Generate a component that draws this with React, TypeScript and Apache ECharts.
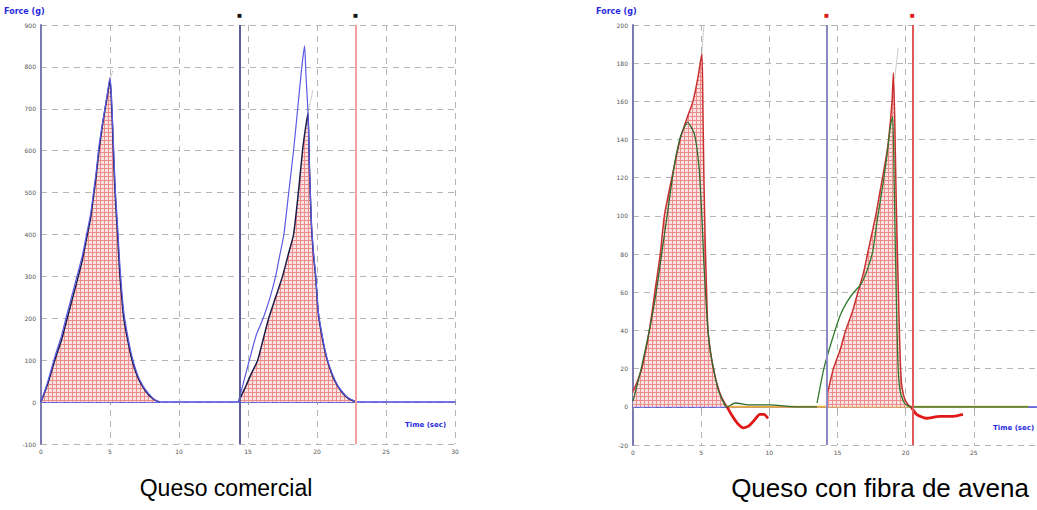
import React, { useEffect, useRef } from "react";
import * as echarts from "echarts";

// ---------- Left panel: Queso comercial ----------
const leftXTicks = [0, 5, 10, 15, 20, 25, 30];
const leftYMin = -100;
const leftYMax = 900;

const lDark1T = [0, 0.5, 1.0, 1.5, 1.9, 2.3, 2.7, 3.0, 3.3, 3.6, 3.8, 4.0, 4.2, 4.45, 4.65, 4.85, 5.0, 5.1, 5.2, 5.3, 5.4, 5.55, 5.7, 5.85, 6.0, 6.3, 6.6, 7.0, 7.4, 7.8, 8.2, 8.6];
const lDark1V = [0, 45, 100, 150, 200, 250, 300, 340, 390, 440, 490, 540, 600, 660, 700, 740, 770, 720, 640, 550, 480, 400, 310, 250, 200, 145, 100, 60, 35, 17, 6, 0];
const lBlue1V = [0, 50, 108, 160, 212, 262, 312, 350, 400, 450, 500, 550, 610, 665, 705, 745, 775, 735, 660, 575, 500, 420, 335, 268, 215, 155, 108, 65, 38, 20, 7, 0];

const lDark2T = [14.3, 14.8, 15.2, 15.7, 16.1, 16.5, 17.0, 17.5, 17.9, 18.3, 18.65, 18.95, 19.15, 19.35, 19.45, 19.6, 19.75, 19.9, 20.1, 20.4, 20.7, 21.1, 21.5, 21.9, 22.3, 22.9];
const lDark2V = [0, 35, 65, 100, 150, 200, 250, 300, 350, 400, 500, 600, 650, 690, 560, 420, 350, 300, 210, 150, 105, 65, 38, 20, 8, 0];
const lBlue2T = [14.3, 14.7, 15.1, 15.6, 16.1, 16.6, 17.0, 17.3, 17.6, 17.95, 18.3, 18.6, 18.9, 19.1, 19.2, 19.35, 19.45, 19.6, 19.75, 19.9, 20.1, 20.4, 20.7, 21.1, 21.5, 21.9, 22.3, 22.9];
const lBlue2V = [0, 50, 100, 160, 200, 250, 300, 350, 400, 500, 600, 700, 800, 850, 780, 690, 565, 425, 355, 305, 215, 155, 108, 68, 40, 22, 9, 0];

const lTip1T = [5.0, 5.2];
const lTip1V = [770, 790];
const lTip2T = [19.35, 19.7];
const lTip2V = [690, 745];

const leftMarkers = [14.4, 22.8];

// ---------- Right panel: Queso con fibra de avena ----------
const rightXTicks = [0, 5, 10, 15, 20, 25, 30];
const rightYMin = -20;
const rightYMax = 200;

const rRed1T = [0, 0.3, 0.65, 1.2, 1.6, 2.0, 2.3, 2.85, 3.45, 4.0, 4.4, 4.75, 5.05, 5.12, 5.2, 5.3, 5.4, 5.5, 5.7, 5.9, 6.2, 6.5, 6.9];
const rRed1V = [8, 13, 20, 40, 60, 80, 100, 120, 140, 152, 160, 172, 185, 160, 120, 85, 60, 40, 28, 20, 11, 5, 0];
const rRedTail1T = [6.9, 7.3, 7.7, 8.1, 8.5, 8.9, 9.3, 9.6, 9.9];
const rRedTail1V = [0, -5, -9, -11, -10, -7, -4, -4, -6];

const rGreen1T = [0, 0.6, 1.2, 1.7, 2.1, 2.5, 3.0, 3.5, 4.0, 4.5, 4.85, 5.05, 5.2, 5.4, 5.6, 5.9, 6.3, 6.9, 7.5, 8.5, 10, 12, 13.5];
const rGreen1V = [3, 20, 40, 60, 80, 100, 125, 142, 149, 143, 125, 100, 75, 50, 33, 20, 8, 0, 2, 1, 1, 0, 0];

const rRed2T = [14.3, 14.7, 15.2, 15.6, 16.1, 16.5, 16.9, 17.2, 17.5, 17.8, 18.1, 18.3, 18.55, 18.75, 19.0, 19.1, 19.2, 19.3, 19.4, 19.5, 19.6, 19.7, 19.85, 20.0, 20.2, 20.4];
const rRed2V = [8, 20, 30, 40, 50, 60, 70, 80, 90, 100, 112, 120, 130, 140, 160, 175, 150, 110, 80, 50, 25, 12, 6, 3, 1, 0];
const rRedTail2T = [20.4, 20.8, 21.5, 22.5, 23.5, 24.2];
const rRedTail2V = [0, -4, -6, -5, -5, -4];

const rGreen2T = [13.5, 14.0, 14.6, 15.2, 15.7, 16.2, 16.7, 17.2, 17.6, 17.9, 18.3, 18.6, 18.9, 19.05, 19.15, 19.25, 19.35, 19.45, 19.6, 19.9, 20.3, 22, 25, 29];
const rGreen2V = [2, 20, 35, 48, 55, 60, 64, 72, 82, 97, 115, 130, 148, 152, 120, 80, 45, 20, 8, 2, 0, 0, 0, 0];

const rOrangeT = [6.9, 29];
const rOrangeV = [0, 0];

const rTip1T = [5.05, 5.2];
const rTip1V = [185, 200];
const rTip2T = [19.2, 19.45];
const rTip2V = [172, 188];

const rightMarkers = [14.2, 20.5];

const zip = (t: number[], v: number[]) => t.map((x, i) => [x, v[i]]);

function makeFill(): any {
  const c = document.createElement("canvas");
  c.width = 4;
  c.height = 4;
  const ctx = c.getContext("2d")!;
  ctx.fillStyle = "#fbe3e3";
  ctx.fillRect(0, 0, 4, 4);
  ctx.fillStyle = "#ee8c8c";
  ctx.fillRect(0, 0, 4, 1);
  ctx.fillRect(0, 0, 1, 4);
  return { image: c, repeat: "repeat", imageWidth: 4, imageHeight: 4 };
}

function lineSeries(grid: number, t: number[], v: number[], color: string, width: number, extra: any = {}) {
  return {
    type: "line",
    xAxisIndex: grid,
    yAxisIndex: grid,
    data: zip(t, v),
    showSymbol: false,
    symbol: "none",
    smooth: 0.2,
    lineStyle: { color, width },
    z: 3,
    ...extra,
  };
}

function markerSeries(grid: number, xs: number[], colors: string[], labelColor: string) {
  return {
    type: "line",
    xAxisIndex: grid,
    yAxisIndex: grid,
    data: [],
    markLine: {
      silent: true,
      symbol: ["none", "none"],
      data: xs.map((x, i) => ({
        xAxis: x,
        lineStyle: { color: colors[i], width: 2, type: "solid" },
      })),
      label: {
        show: true,
        position: "end",
        formatter: "\u25A0",
        color: labelColor,
        fontSize: 8,
        distance: 6,
      },
    },
  };
}

function xAxisCfg(grid: number, ticks: number[], axisColor: string, showMax: boolean) {
  return {
    type: "value",
    gridIndex: grid,
    min: ticks[0],
    max: ticks[ticks.length - 1],
    interval: ticks[1] - ticks[0],
    axisLine: { onZero: true, lineStyle: { color: axisColor, width: 1.5 } },
    axisTick: { show: true, length: 3, lineStyle: { color: "#999" } },
    axisLabel: { fontSize: 6, color: "#555", margin: 4, fontFamily: "DejaVu Sans", showMaxLabel: showMax },
    splitLine: { show: true, lineStyle: { color: "#b5b5b5", type: [6, 5], width: 1 } },
  };
}

function yAxisCfg(grid: number, min: number, max: number, interval: number) {
  return {
    type: "value",
    gridIndex: grid,
    min,
    max,
    interval,
    axisLine: { show: true, onZero: false, lineStyle: { color: "#7a7ab0", width: 2 } },
    axisTick: { show: false },
    axisLabel: { fontSize: 6, color: "#555", margin: 5, fontFamily: "DejaVu Sans" },
    splitLine: { show: true, lineStyle: { color: "#b5b5b5", type: [6, 5], width: 1 } },
  };
}

export default function App() {
  const ref = useRef<HTMLDivElement>(null);
  useEffect(() => {
    document.body.style.margin = "0";
    const chart = echarts.init(ref.current!, null, { renderer: "svg" });
    const FILL = makeFill();
    const option: any = {
      animation: false,
      backgroundColor: "#ffffff",
      grid: [
        { left: 41, top: 25, width: 414, height: 419, outerBoundsMode: "none", containLabel: false },
        { left: 633, top: 25, width: 409, height: 420, outerBoundsMode: "none", containLabel: false },
      ],
      xAxis: [xAxisCfg(0, leftXTicks, "#4a4ae0", true), xAxisCfg(1, rightXTicks, "#4a4ae0", false)],
      yAxis: [yAxisCfg(0, leftYMin, leftYMax, 100), yAxisCfg(1, rightYMin, rightYMax, 20)],
      series: [
        // left
        lineSeries(0, lDark1T, lDark1V, "#1c1c48", 1.5, { areaStyle: { color: FILL, opacity: 1, origin: 0 } }),
        lineSeries(0, lDark1T, lBlue1V, "#5a5ae6", 1.2),
        lineSeries(0, lDark2T, lDark2V, "#1c1c48", 1.5, { areaStyle: { color: FILL, opacity: 1, origin: 0 } }),
        lineSeries(0, lBlue2T, lBlue2V, "#5a5ae6", 1.2),
        lineSeries(0, lTip1T, lTip1V, "#9a9a9a", 1, { smooth: false, lineStyle: { color: "#9a9a9a", width: 1, type: "dotted" } }),
        lineSeries(0, lTip2T, lTip2V, "#9a9a9a", 1, { smooth: false, lineStyle: { color: "#9a9a9a", width: 1, type: "dotted" } }),
        markerSeries(0, leftMarkers, ["#5c5ca0", "#f2a0a0"], "#111"),
        // right
        lineSeries(1, rOrangeT, rOrangeV, "#f0b040", 2, { smooth: false, z: 2 }),
        lineSeries(1, rRed1T, rRed1V, "#c83030", 1.5, { areaStyle: { color: FILL, opacity: 1, origin: 0 } }),
        lineSeries(1, rRedTail1T, rRedTail1V, "#e01818", 2.8),
        lineSeries(1, rGreen1T, rGreen1V, "#2f6a2f", 1.3, { z: 4 }),
        lineSeries(1, rRed2T, rRed2V, "#c83030", 1.5, { areaStyle: { color: FILL, opacity: 1, origin: 0 } }),
        lineSeries(1, rRedTail2T, rRedTail2V, "#e01818", 2.8),
        lineSeries(1, rGreen2T, rGreen2V, "#2f7a2f", 1.3, { z: 4 }),
        lineSeries(1, rTip1T, rTip1V, "#9a9a9a", 1, { smooth: false, lineStyle: { color: "#9a9a9a", width: 1, type: "dotted" } }),
        lineSeries(1, rTip2T, rTip2V, "#9a9a9a", 1, { smooth: false, lineStyle: { color: "#9a9a9a", width: 1, type: "dotted" } }),
        markerSeries(1, rightMarkers, ["#8a8ac4", "#e05858"], "#e01818"),
      ],
      graphic: [
        { type: "text", left: 4, top: 7, style: { text: "Force (g)", fontSize: 8, fontWeight: "bold", fill: "#2a2ae0", fontFamily: "DejaVu Sans" } },
        { type: "text", left: 405, top: 421, style: { text: "Time (sec)", fontSize: 7, fontWeight: "bold", fill: "#2a2ae0", fontFamily: "DejaVu Sans" } },
        { type: "text", left: 596, top: 7, style: { text: "Force (g)", fontSize: 8, fontWeight: "bold", fill: "#2a2ae0", fontFamily: "DejaVu Sans" } },
        { type: "text", left: 993, top: 424, style: { text: "Time (sec)", fontSize: 7, fontWeight: "bold", fill: "#2a2ae0", fontFamily: "DejaVu Sans" } },
        { type: "text", x: 226, y: 488, style: { text: "Queso comercial", fontSize: 23, fill: "#000", fontFamily: "Liberation Sans", align: "center", verticalAlign: "middle" } },
        { type: "text", x: 880, y: 488, style: { text: "Queso con fibra de avena", fontSize: 26, fill: "#000", fontFamily: "Liberation Sans", align: "center", verticalAlign: "middle" } },
      ],
    };
    chart.setOption(option);
    return () => chart.dispose();
  }, []);
  return <div ref={ref} style={{ width: 1037, height: 510 }} />;
}
